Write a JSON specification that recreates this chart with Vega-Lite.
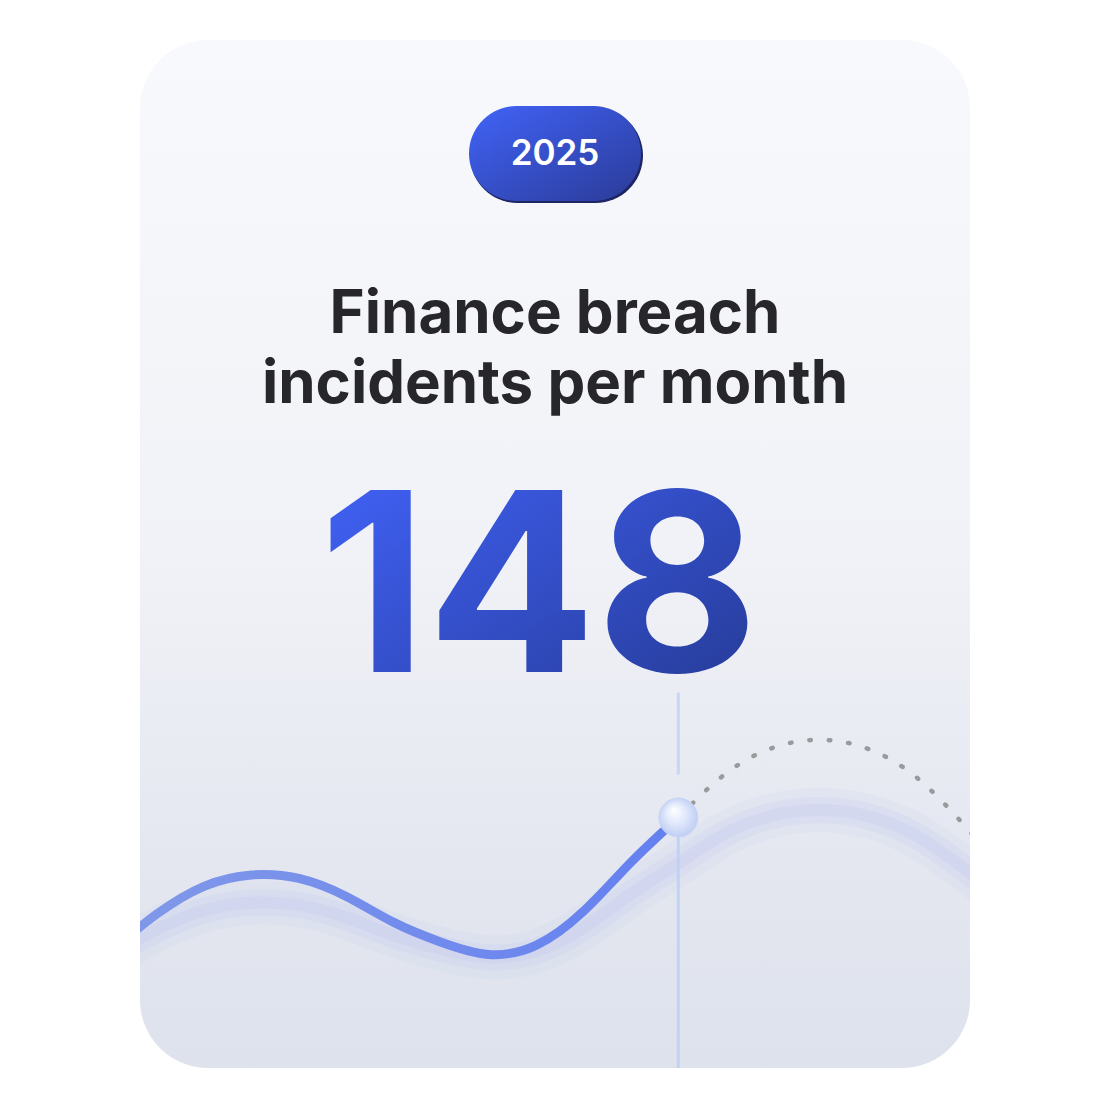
{
  "$schema": "https://vega.github.io/schema/vega-lite/v6.json",
  "width": 1110,
  "height": 1110,
  "autosize": {"type": "fit", "contains": "padding"},
  "padding": {"left": 140, "right": 140, "top": 40, "bottom": 40},
  "background": "#ffffff",
  "datasets": {
    "incidents": [
      {"month": 0, "incidents": 101.7, "kind": "actual"},
      {"month": 1, "incidents": 114.8, "kind": "actual"},
      {"month": 2, "incidents": 124.4, "kind": "actual"},
      {"month": 3, "incidents": 128.3, "kind": "actual"},
      {"month": 4, "incidents": 127.1, "kind": "actual"},
      {"month": 5, "incidents": 120.9, "kind": "actual"},
      {"month": 6, "incidents": 112.0, "kind": "actual"},
      {"month": 7, "incidents": 105.2, "kind": "actual"},
      {"month": 8, "incidents": 101.0, "kind": "actual"},
      {"month": 9, "incidents": 104.1, "kind": "actual"},
      {"month": 10, "incidents": 115.8, "kind": "actual"},
      {"month": 11, "incidents": 132.6, "kind": "actual"},
      {"month": 12, "incidents": 148, "kind": "current"},
      {"month": 13, "incidents": 163.1, "kind": "forecast"},
      {"month": 14, "incidents": 172.0, "kind": "forecast"},
      {"month": 15, "incidents": 174.7, "kind": "forecast"},
      {"month": 16, "incidents": 171.6, "kind": "forecast"},
      {"month": 17, "incidents": 162.1, "kind": "forecast"},
      {"month": 18, "incidents": 145.9, "kind": "forecast"},
      {"month": 19, "incidents": 127.4, "kind": "forecast"}
    ],
    "card": [
      {"year": "2025", "title": "Finance breach\nincidents per month"}
    ]
  },
  "resolve": {"scale": {"y": "independent"}},
  "layer": [
    {
      "data": {"name": "card"},
      "mark": {
        "type": "rect", "x": 0, "x2": "width", "y": 0, "y2": "height", "cornerRadius": 68,
        "fill": {"gradient": "linear", "x1": 0, "y1": 0, "x2": 0, "y2": 1, "stops": [{"offset": 0, "color": "#f8f9fc"}, {"offset": 0.5, "color": "#f1f2f7"}, {"offset": 0.8, "color": "#e4e7f0"}, {"offset": 1, "color": "#dee2ec"}]}
      },
      "encoding": {}
    },
    {
      "data": {"name": "incidents"},
      "mark": {"type": "line", "interpolate": "natural", "clip": true, "stroke": "#c9d0ef", "strokeWidth": 44, "opacity": 0.18, "strokeCap": "round"},
      "encoding": {
        "x": {"field": "month", "type": "quantitative", "scale": {"domain": [0.65, 18.15], "nice": false, "zero": false}, "axis": null},
        "y": {"field": "incidents", "type": "quantitative", "scale": {"domain": [45.5, 560.5], "nice": false, "zero": false}, "axis": null}
      }
    },
    {
      "data": {"name": "incidents"},
      "mark": {"type": "line", "interpolate": "natural", "clip": true, "stroke": "#c6cdef", "strokeWidth": 26, "opacity": 0.25, "strokeCap": "round"},
      "encoding": {
        "x": {"field": "month", "type": "quantitative", "axis": null},
        "y": {"field": "incidents", "type": "quantitative", "scale": {"domain": [45.5, 560.5], "nice": false, "zero": false}, "axis": null}
      }
    },
    {
      "data": {"name": "incidents"},
      "mark": {"type": "line", "interpolate": "natural", "clip": true, "stroke": "#c3caee", "strokeWidth": 12, "opacity": 0.3, "strokeCap": "round"},
      "encoding": {
        "x": {"field": "month", "type": "quantitative", "axis": null},
        "y": {"field": "incidents", "type": "quantitative", "scale": {"domain": [45.5, 560.5], "nice": false, "zero": false}, "axis": null}
      }
    },
    {
      "data": {"name": "incidents"},
      "transform": [{"filter": "datum.kind == 'current'"}],
      "mark": {"type": "rule", "stroke": "#bcd0f7", "strokeWidth": 3, "opacity": 0.9},
      "encoding": {
        "x": {"field": "month", "type": "quantitative", "axis": null},
        "y": {"field": "incidents", "type": "quantitative", "scale": {"domain": [62, 415], "nice": false, "zero": false}, "axis": null},
        "y2": {"value": "height"}
      }
    },
    {
      "data": {"name": "incidents"},
      "transform": [{"filter": "datum.kind == 'current'"}],
      "mark": {"type": "rule", "stroke": "#c0d2f8", "strokeWidth": 3, "opacity": 0.85, "yOffset": -43, "y2Offset": -125},
      "encoding": {
        "x": {"field": "month", "type": "quantitative", "axis": null},
        "y": {"field": "incidents", "type": "quantitative", "scale": {"domain": [62, 415], "nice": false, "zero": false}, "axis": null},
        "y2": {"field": "incidents"}
      }
    },
    {
      "data": {"name": "incidents"},
      "transform": [{"filter": "datum.kind != 'forecast'"}],
      "mark": {
        "type": "line", "interpolate": "natural", "clip": true, "strokeWidth": 9, "strokeCap": "round",
        "stroke": {"gradient": "linear", "x1": 0, "y1": 0, "x2": 1, "y2": 0, "stops": [{"offset": 0, "color": "#8299e8"}, {"offset": 1, "color": "#6480f0"}]}
      },
      "encoding": {
        "x": {"field": "month", "type": "quantitative", "axis": null},
        "y": {"field": "incidents", "type": "quantitative", "scale": {"domain": [62, 415], "nice": false, "zero": false}, "axis": null}
      }
    },
    {
      "data": {"name": "incidents"},
      "transform": [{"filter": "datum.kind != 'actual'"}],
      "mark": {"type": "line", "interpolate": "natural", "clip": true, "stroke": "#9a9a9c", "strokeWidth": 4.5, "strokeCap": "round", "strokeDash": [1.5, 18]},
      "encoding": {
        "x": {"field": "month", "type": "quantitative", "axis": null},
        "y": {"field": "incidents", "type": "quantitative", "scale": {"domain": [62, 415], "nice": false, "zero": false}, "axis": null}
      }
    },
    {
      "data": {"name": "incidents"},
      "transform": [{"filter": "datum.kind == 'current'"}],
      "mark": {
        "type": "point", "shape": "circle", "filled": true, "size": 1521, "opacity": 1,
        "stroke": "#c9d6f5", "strokeWidth": 1,
        "fill": {"gradient": "radial", "x1": 0.38, "y1": 0.3, "r1": 0, "x2": 0.5, "y2": 0.5, "r2": 0.55, "stops": [{"offset": 0, "color": "#ffffff"}, {"offset": 0.45, "color": "#e2eafc"}, {"offset": 1, "color": "#bccaf2"}]}
      },
      "encoding": {
        "x": {"field": "month", "type": "quantitative", "axis": null},
        "y": {"field": "incidents", "type": "quantitative", "scale": {"domain": [62, 415], "nice": false, "zero": false}, "axis": null}
      }
    },
    {
      "data": {"name": "card"},
      "mark": {"type": "rect", "x": {"expr": "width/2 - 85"}, "x2": {"expr": "width/2 + 88"}, "y": 68, "y2": 163, "cornerRadius": 48, "fill": "#1d2562"},
      "encoding": {}
    },
    {
      "data": {"name": "card"},
      "mark": {
        "type": "rect", "x": {"expr": "width/2 - 86"}, "x2": {"expr": "width/2 + 86"}, "y": 66, "y2": 161, "cornerRadius": 47.5,
        "fill": {"gradient": "linear", "x1": 0, "y1": 0, "x2": 1, "y2": 1, "stops": [{"offset": 0, "color": "#4163f8"}, {"offset": 1, "color": "#2b3b98"}]}
      },
      "encoding": {}
    },
    {
      "data": {"name": "card"},
      "mark": {"type": "text", "x": {"expr": "width/2"}, "y": 125, "align": "center", "baseline": "alphabetic", "font": "Inter", "fontSize": 35, "fontWeight": 600, "fill": "#ffffff"},
      "encoding": {"text": {"field": "year"}}
    },
    {
      "data": {"name": "card"},
      "mark": {"type": "text", "x": {"expr": "width/2"}, "y": 293, "align": "center", "baseline": "alphabetic", "font": "Inter", "fontSize": 60, "fontWeight": 700, "fill": "#27272b", "lineBreak": "\n", "lineHeight": 70},
      "encoding": {"text": {"field": "title"}}
    },
    {
      "data": {"name": "incidents"},
      "transform": [{"filter": "datum.kind == 'current'"}],
      "mark": {
        "type": "text", "x": {"expr": "width/2"}, "y": 632, "dx": -16, "align": "center", "baseline": "alphabetic", "font": "Inter", "fontSize": 250, "fontWeight": 700,
        "fill": {"gradient": "linear", "x1": 0, "y1": 0, "x2": 1, "y2": 1, "stops": [{"offset": 0, "color": "#4365ff"}, {"offset": 1, "color": "#243890"}]}
      },
      "encoding": {"text": {"field": "incidents", "type": "quantitative", "format": "d"}}
    }
  ],
  "config": {"view": {"stroke": null}}
}
